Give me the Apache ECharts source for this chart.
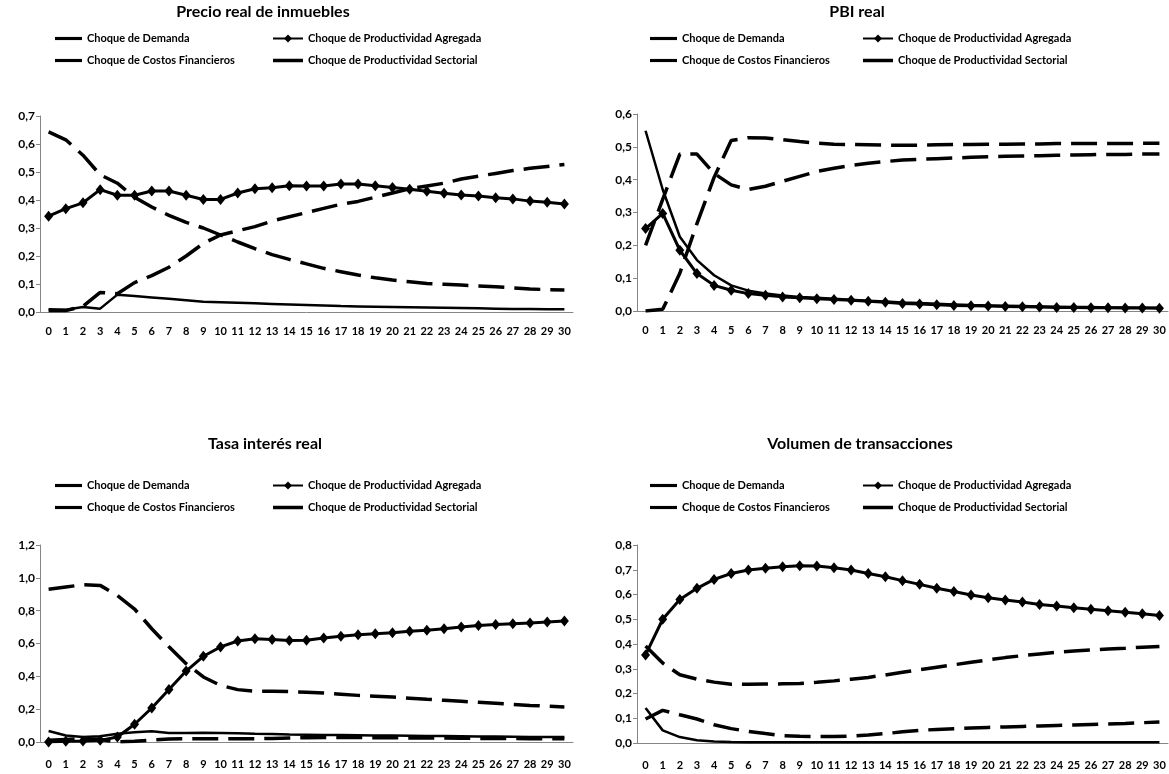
<!DOCTYPE html>
<html>
<head>
<meta charset="utf-8">
<title>Funciones impulso respuesta</title>
<script src="https://cdn.jsdelivr.net/npm/echarts@6/dist/echarts.min.js"></script>
<style>
  html, body { margin: 0; padding: 0; background: #fff; }
  #main { width: 1169px; height: 774px; }
</style>
</head>
<body>
<div id="main"></div>
<script>
// * Cuatro graficos de respuesta a choques (estilo Excel)

// ? periodos del eje x
const periods = ['0', '1', '2', '3', '4', '5', '6', '7', '8', '9', '10', '11', '12', '13', '14', '15',
  '16', '17', '18', '19', '20', '21', '22', '23', '24', '25', '26', '27', '28', '29', '30']

const shockNames = ['Choque de Demanda', 'Choque de Productividad Agregada',
  'Choque de Costos Financieros', 'Choque de Productividad Sectorial']

const panelTitles = ['Precio real de inmuebles', 'PBI real', 'Tasa interés real', 'Volumen de transacciones']

// ? eje y de cada panel: [maximo, paso]
const precioAxis = [0.7, 0.1]
const pbiAxis = [0.6, 0.1]
const tasaAxis = [1.2, 0.2]
const volumenAxis = [0.8, 0.1]

// ? Precio real de inmuebles
const precioDemanda = [0.010, 0.008, 0.018, 0.012, 0.062, 0.057, 0.052, 0.047, 0.042, 0.037, 0.035, 0.033, 0.031, 0.029, 0.027, 0.025,
  0.023, 0.021, 0.020, 0.019, 0.018, 0.017, 0.016, 0.015, 0.014, 0.013, 0.012, 0.011, 0.011, 0.010, 0.010]
const precioAgregada = [0.342, 0.369, 0.390, 0.437, 0.417, 0.417, 0.432, 0.432, 0.417, 0.402, 0.402, 0.425, 0.440, 0.444, 0.451, 0.450,
  0.450, 0.457, 0.457, 0.451, 0.445, 0.438, 0.431, 0.424, 0.418, 0.414, 0.408, 0.404, 0.396, 0.392, 0.386]
const precioCostos = [0.643, 0.615, 0.560, 0.490, 0.460, 0.410, 0.375, 0.345, 0.320, 0.300, 0.275, 0.250, 0.226, 0.205, 0.188, 0.172,
  0.156, 0.144, 0.132, 0.122, 0.114, 0.108, 0.102, 0.099, 0.096, 0.093, 0.090, 0.086, 0.082, 0.080, 0.079]
const precioSectorial = [0.005, 0.005, 0.020, 0.070, 0.065, 0.105, 0.130, 0.160, 0.200, 0.245, 0.275, 0.290, 0.305, 0.325, 0.340, 0.355,
  0.370, 0.385, 0.395, 0.410, 0.425, 0.440, 0.450, 0.460, 0.475, 0.485, 0.495, 0.505, 0.513, 0.520, 0.527]

// ? PBI real
const pbiDemanda = [0.549, 0.370, 0.226, 0.155, 0.109, 0.078, 0.062, 0.053, 0.047, 0.043, 0.040, 0.037, 0.034, 0.031, 0.029, 0.026,
  0.024, 0.022, 0.020, 0.018, 0.017, 0.016, 0.015, 0.014, 0.013, 0.012, 0.012, 0.011, 0.011, 0.010, 0.010]
const pbiAgregada = [0.251, 0.297, 0.185, 0.114, 0.078, 0.063, 0.053, 0.048, 0.043, 0.040, 0.037, 0.035, 0.033, 0.030, 0.027, 0.023,
  0.021, 0.019, 0.017, 0.016, 0.015, 0.014, 0.013, 0.012, 0.011, 0.011, 0.010, 0.010, 0.009, 0.009, 0.008]
const pbiCostos = [0.200, 0.340, 0.478, 0.478, 0.419, 0.384, 0.370, 0.380, 0.395, 0.410, 0.425, 0.435, 0.443, 0.450, 0.455, 0.460,
  0.462, 0.464, 0.466, 0.468, 0.470, 0.471, 0.472, 0.473, 0.474, 0.475, 0.476, 0.477, 0.477, 0.478, 0.478]
const pbiSectorial = [0.000, 0.005, 0.115, 0.266, 0.407, 0.519, 0.528, 0.527, 0.522, 0.516, 0.511, 0.508, 0.507, 0.506, 0.505, 0.505,
  0.505, 0.506, 0.507, 0.507, 0.508, 0.508, 0.509, 0.509, 0.510, 0.510, 0.510, 0.510, 0.510, 0.511, 0.511]

// ? Tasa interes real
const tasaDemanda = [0.067, 0.040, 0.030, 0.035, 0.050, 0.060, 0.065, 0.055, 0.055, 0.056, 0.055, 0.053, 0.050, 0.048, 0.045, 0.044,
  0.043, 0.042, 0.041, 0.040, 0.039, 0.038, 0.037, 0.036, 0.035, 0.034, 0.033, 0.032, 0.031, 0.030, 0.030]
const tasaAgregada = [0.000, 0.004, 0.006, 0.010, 0.030, 0.108, 0.207, 0.320, 0.432, 0.522, 0.579, 0.615, 0.629, 0.625, 0.618, 0.620,
  0.633, 0.644, 0.654, 0.660, 0.666, 0.674, 0.680, 0.690, 0.700, 0.709, 0.715, 0.720, 0.725, 0.731, 0.737]
const tasaCostos = [0.930, 0.944, 0.958, 0.954, 0.893, 0.810, 0.690, 0.580, 0.477, 0.396, 0.345, 0.319, 0.309, 0.309, 0.307, 0.303,
  0.298, 0.291, 0.284, 0.279, 0.274, 0.267, 0.260, 0.254, 0.248, 0.242, 0.236, 0.229, 0.223, 0.218, 0.213]
const tasaSectorial = [0.010, 0.015, 0.020, 0.015, 0.000, 0.005, 0.012, 0.018, 0.020, 0.020, 0.020, 0.020, 0.020, 0.022, 0.025, 0.026,
  0.027, 0.027, 0.027, 0.026, 0.026, 0.025, 0.025, 0.024, 0.023, 0.022, 0.022, 0.021, 0.020, 0.020, 0.020]

// ? Volumen de transacciones
const volumenDemanda = [0.141, 0.051, 0.024, 0.011, 0.006, 0.004, 0.003, 0.003, 0.003, 0.003, 0.003, 0.003, 0.003, 0.003, 0.003, 0.003,
  0.003, 0.003, 0.003, 0.003, 0.003, 0.003, 0.003, 0.003, 0.003, 0.003, 0.003, 0.003, 0.003, 0.003, 0.003]
const volumenAgregada = [0.356, 0.500, 0.580, 0.625, 0.661, 0.685, 0.699, 0.706, 0.712, 0.716, 0.715, 0.708, 0.699, 0.685, 0.672, 0.656,
  0.641, 0.625, 0.612, 0.598, 0.587, 0.578, 0.570, 0.560, 0.554, 0.546, 0.540, 0.534, 0.528, 0.522, 0.515]
const volumenCostos = [0.392, 0.323, 0.276, 0.258, 0.246, 0.237, 0.237, 0.238, 0.239, 0.240, 0.245, 0.251, 0.258, 0.265, 0.275, 0.286,
  0.296, 0.306, 0.316, 0.326, 0.336, 0.345, 0.353, 0.360, 0.367, 0.372, 0.376, 0.380, 0.383, 0.387, 0.390]
const volumenSectorial = [0.097, 0.132, 0.114, 0.097, 0.074, 0.058, 0.047, 0.038, 0.030, 0.027, 0.026, 0.026, 0.028, 0.032, 0.038, 0.045,
  0.051, 0.055, 0.058, 0.061, 0.063, 0.065, 0.067, 0.069, 0.071, 0.073, 0.075, 0.077, 0.079, 0.082, 0.085]

const FONT = "Lato, 'Liberation Sans Narrow', 'DejaVu Sans Condensed', sans-serif"
const AXIS_GREY = '#868686'
// barra corta para la leyenda (en vez del circulo por defecto)
const BAR_ICON = 'path://M0,0H30V3.5H0Z'

const chart = echarts.init(document.getElementById('main'))

// posiciones de cada panel (px)
const panels = [
  { grid: { left: 40, right: 596, top: 116, bottom: 462 }, titleX: 263, titleY: 4, legendY: 33, legL: 55, legR: 272, axis: precioAxis },
  { grid: { left: 637, right: 1, top: 114, bottom: 463 }, titleX: 857, titleY: 4, legendY: 33, legL: 650, legR: 862, axis: pbiAxis },
  { grid: { left: 40, right: 596, top: 545, bottom: 32 }, titleX: 265, titleY: 436, legendY: 480, legL: 55, legR: 272, axis: tasaAxis },
  { grid: { left: 637, right: 1, top: 545, bottom: 31 }, titleX: 860, titleY: 436, legendY: 480, legL: 650, legR: 862, axis: volumenAxis }
]

const panelData = [
  [precioDemanda, precioAgregada, precioCostos, precioSectorial],
  [pbiDemanda, pbiAgregada, pbiCostos, pbiSectorial],
  [tasaDemanda, tasaAgregada, tasaCostos, tasaSectorial],
  [volumenDemanda, volumenAgregada, volumenCostos, volumenSectorial]
]

function fmt(v) {
  return v.toFixed(1).replace('.', ',')
}

function makeSeries(idx) {
  const d = panelData[idx]
  const base = { type: 'line', xAxisIndex: idx, yAxisIndex: idx, animation: false, color: '#000' }
  return [
    Object.assign({}, base, { name: shockNames[0], data: d[0], symbol: 'none', lineStyle: { color: '#000', width: 2.5 } }),
    Object.assign({}, base, {
      name: shockNames[1], data: d[1], symbol: 'diamond', symbolSize: [9, 11], showSymbol: true,
      itemStyle: { color: '#000' }, lineStyle: { color: '#000', width: 3 }
    }),
    Object.assign({}, base, { name: shockNames[2], data: d[2], symbol: 'none', lineStyle: { color: '#000', width: 3.5, type: [26, 10] } }),
    Object.assign({}, base, { name: shockNames[3], data: d[3], symbol: 'none', lineStyle: { color: '#000', width: 3.5, type: [26, 10] } })
  ]
}

const legendText = { fontFamily: FONT, fontWeight: 'bold', fontSize: 11, color: '#000' }

const option = {
  backgroundColor: '#fff',
  animation: false,
  title: panels.map((p, i) => ({
    text: panelTitles[i],
    left: p.titleX,
    top: p.titleY,
    textAlign: 'center',
    padding: 0,
    textStyle: { fontFamily: FONT, fontWeight: 'bold', fontSize: 16, color: '#000' }
  })),
  // dos columnas de leyenda por panel
  legend: panels.flatMap(p => [
    {
      orient: 'vertical', left: p.legL, top: p.legendY, padding: 0, itemGap: 11,
      itemWidth: 27, itemHeight: 10, textStyle: legendText, selectedMode: false,
      data: [{ name: shockNames[0], icon: BAR_ICON }, { name: shockNames[2], icon: BAR_ICON }]
    },
    {
      orient: 'vertical', left: p.legR, top: p.legendY, padding: 0, itemGap: 11,
      itemWidth: 30, itemHeight: 10, textStyle: legendText, selectedMode: false,
      data: [shockNames[1], { name: shockNames[3], icon: BAR_ICON }]
    }
  ]),
  grid: panels.map(p => Object.assign({ containLabel: false }, p.grid)),
  xAxis: panels.map((p, i) => ({
    type: 'category',
    gridIndex: i,
    data: periods,
    boundaryGap: true,
    axisLine: { lineStyle: { color: AXIS_GREY, width: 1 } },
    axisTick: { length: 5, lineStyle: { color: AXIS_GREY } },
    axisLabel: { interval: 0, margin: i < 2 ? 14 : 17, fontFamily: FONT, fontWeight: 'bold', fontSize: 11, color: '#000' }
  })),
  yAxis: panels.map((p, i) => ({
    type: 'value',
    gridIndex: i,
    min: 0,
    max: p.axis[0],
    interval: p.axis[1],
    splitLine: { show: false },
    axisLine: { show: true, lineStyle: { color: AXIS_GREY, width: 1 } },
    axisTick: { show: true, length: 4, lineStyle: { color: AXIS_GREY } },
    axisLabel: { formatter: fmt, margin: 5, fontFamily: FONT, fontWeight: 'bold', fontSize: 12, color: '#000' }
  })),
  series: panels.flatMap((p, i) => makeSeries(i))
}

chart.setOption(option)
</script>
</body>
</html>
